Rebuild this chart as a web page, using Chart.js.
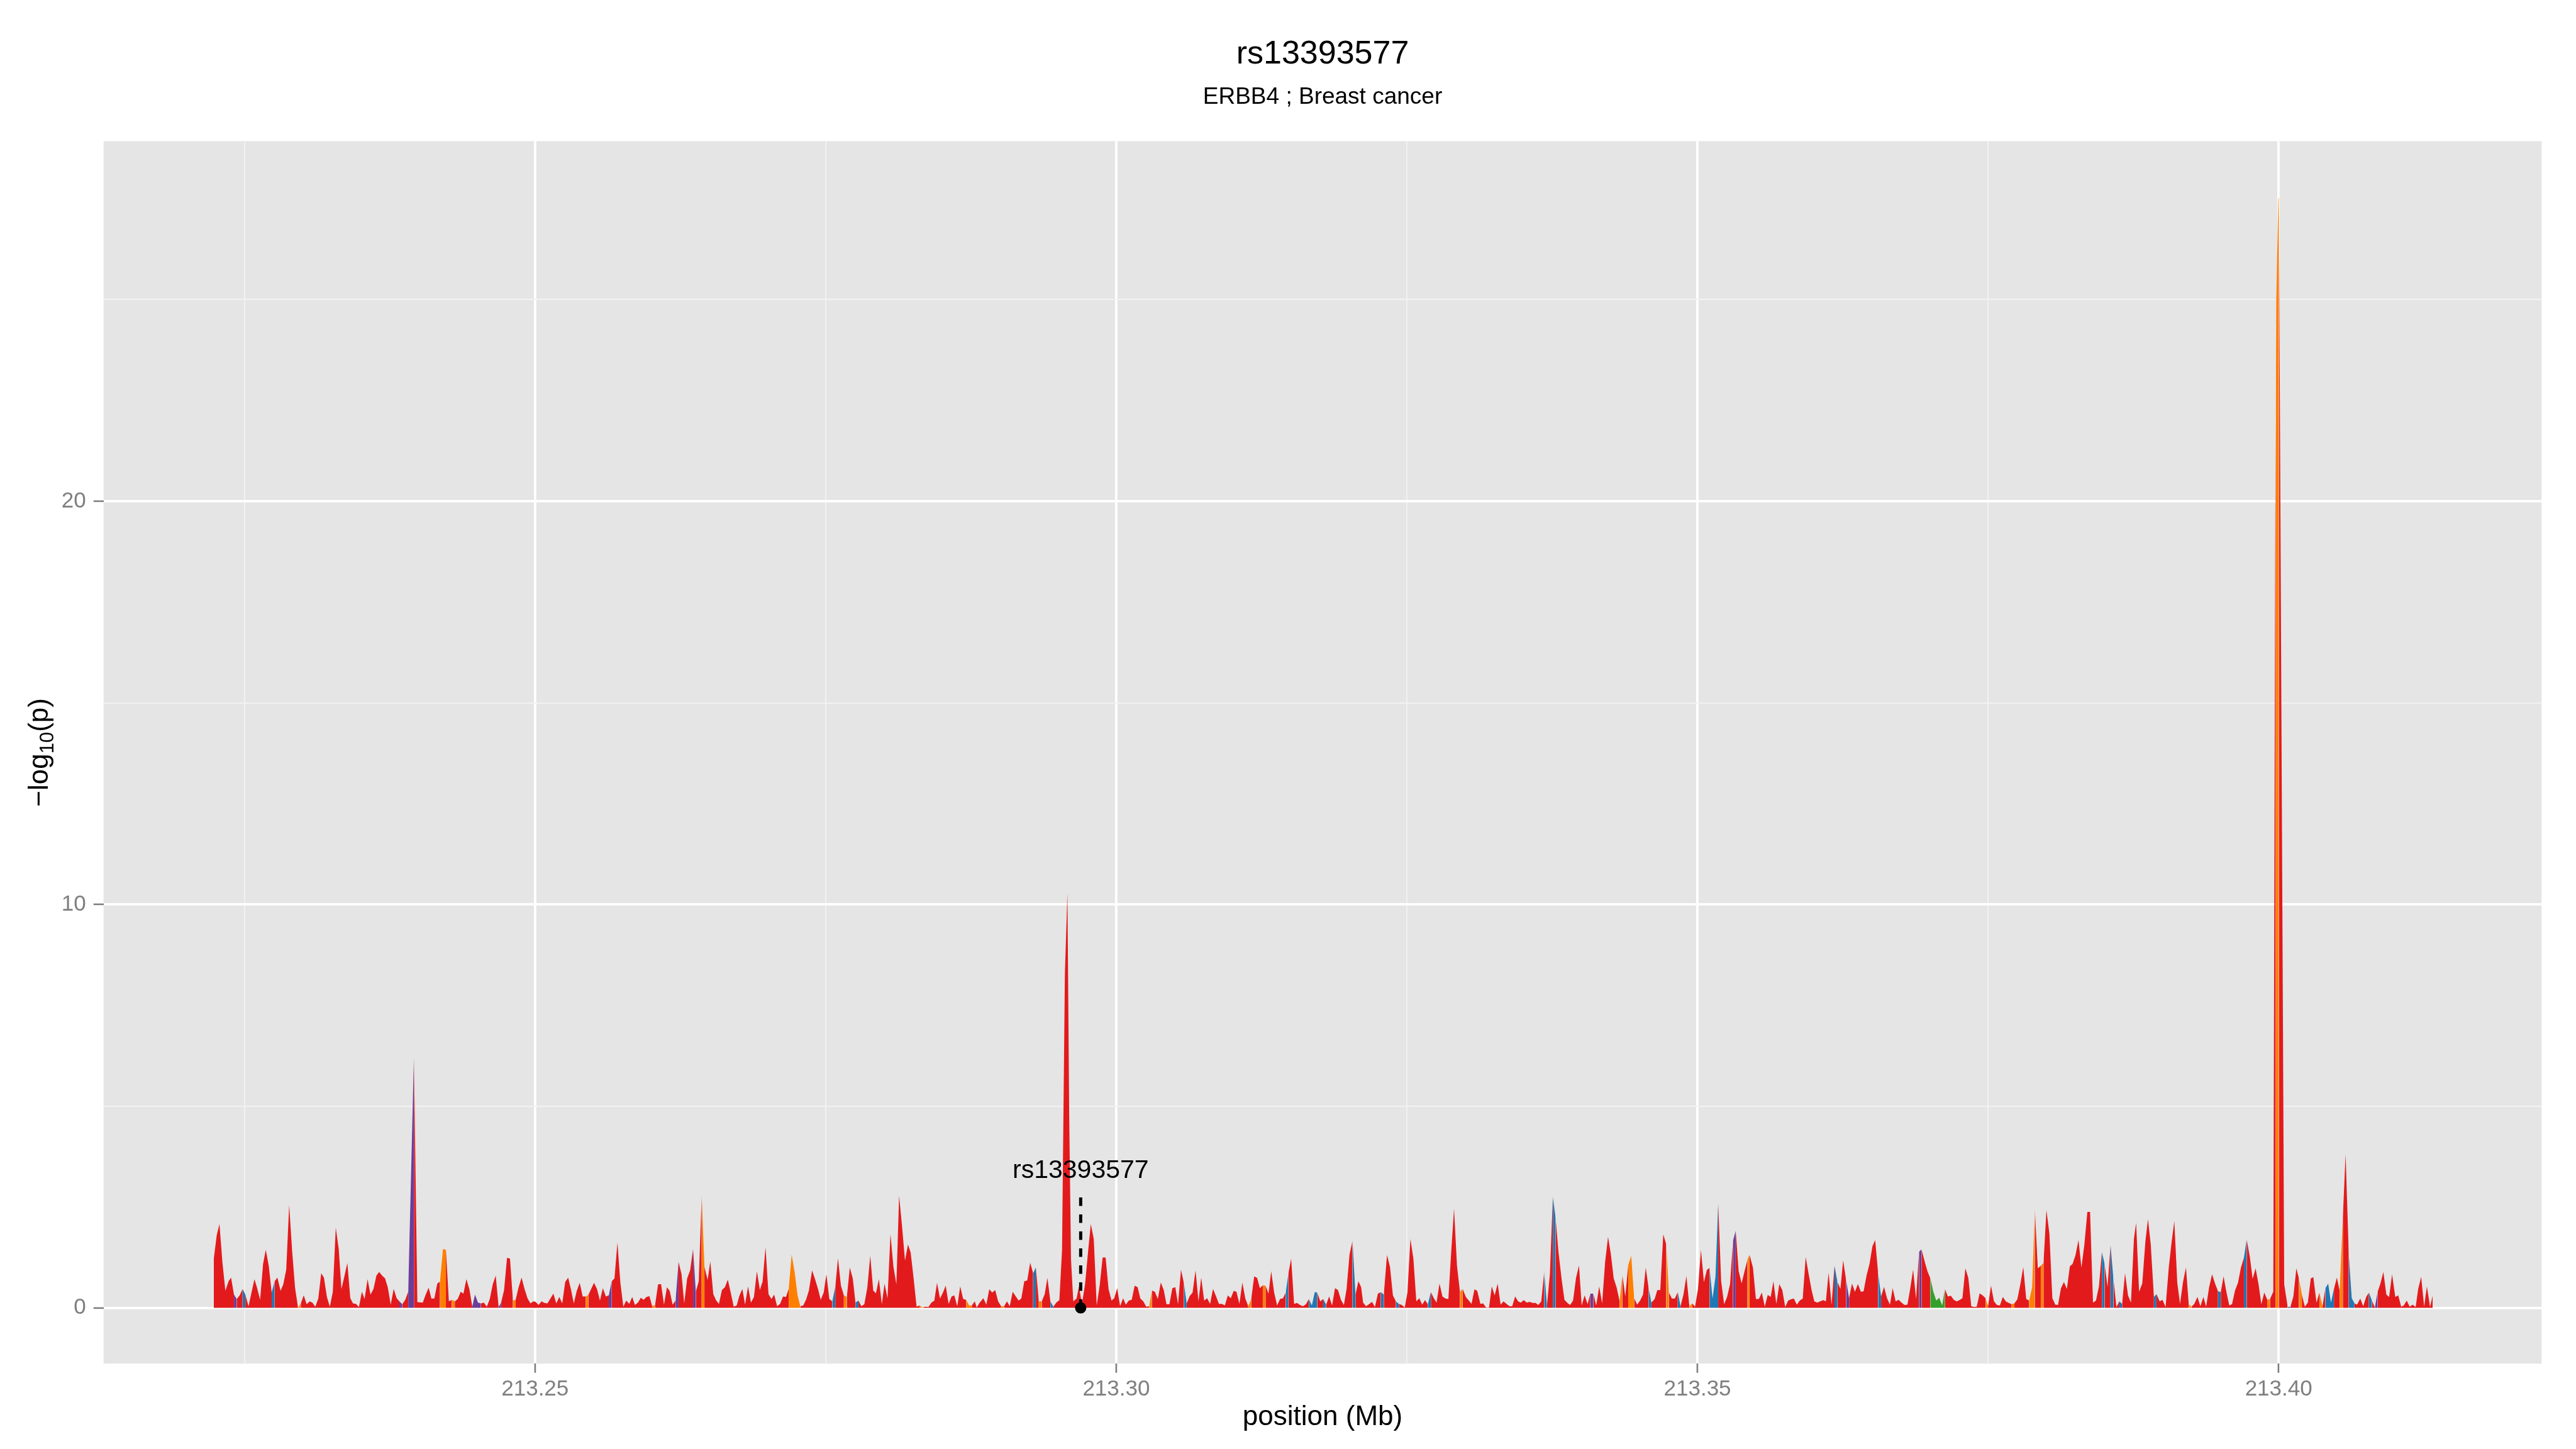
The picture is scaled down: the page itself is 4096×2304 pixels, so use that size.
<!DOCTYPE html>
<html>
<head>
<meta charset="utf-8">
<script src="https://cdn.jsdelivr.net/npm/chart.js@4/dist/chart.umd.min.js"></script>
<style>
  html, body { margin: 0; padding: 0; background: #fff; }
  #wrap { width: 4096px; height: 2304px; }
</style>
</head>
<body>
<div id="wrap"><canvas id="locus" width="4096" height="2304"></canvas></div>
<script>
'use strict';

// position (Mb) of every SNP and its -log10(p)
var positions = [
  213.222362, 213.222616, 213.222850, 213.223104, 213.223358, 213.223634, 213.223846, 213.224100, 213.224334, 213.224588,
  213.224842, 213.225076, 213.225351, 213.225606, 213.225860, 213.226072, 213.226348, 213.226602, 213.226835, 213.227090,
  213.227344, 213.227598, 213.227832, 213.228107, 213.228340, 213.228595, 213.228849, 213.229104, 213.229358, 213.229612,
  213.229846, 213.230100, 213.230354, 213.230609, 213.230842, 213.231096, 213.231351, 213.231605, 213.231838, 213.232093,
  213.232347, 213.232602, 213.232856, 213.233110, 213.233344, 213.233598, 213.233852, 213.234107, 213.234340, 213.234594,
  213.234849, 213.235103, 213.235336, 213.235591, 213.235845, 213.236100, 213.236354, 213.236587, 213.236842, 213.237096,
  213.237329, 213.237584, 213.237838, 213.238092, 213.238326, 213.238580, 213.238834, 213.239089, 213.239580, 213.239875,
  213.240340, 213.240594, 213.240848, 213.241082, 213.241336, 213.241590, 213.241824, 213.242078, 213.242332, 213.242587,
  213.242841, 213.243096, 213.243350, 213.243604, 213.243838, 213.244092, 213.244346, 213.244601, 213.244834, 213.245088,
  213.245343, 213.245597, 213.245852, 213.246106, 213.246360, 213.246615, 213.246869, 213.247081, 213.247336, 213.247590,
  213.247844, 213.248099, 213.248332, 213.248586, 213.248841, 213.249095, 213.249350, 213.249604, 213.249837, 213.250049,
  213.250304, 213.250558, 213.250812, 213.251067, 213.251321, 213.251576, 213.251830, 213.252084, 213.252339, 213.252593,
  213.252848, 213.253102, 213.253335, 213.253590, 213.253844, 213.254098, 213.254353, 213.254586, 213.255073, 213.255327,
  213.255582, 213.255836, 213.256091, 213.256345, 213.256599, 213.256833, 213.257087, 213.257341, 213.257596, 213.257850,
  213.258105, 213.258359, 213.258592, 213.258847, 213.259101, 213.259334, 213.259589, 213.259843, 213.260076, 213.260331,
  213.260585, 213.260839, 213.261094, 213.261348, 213.261581, 213.261836, 213.262090, 213.262345, 213.262599, 213.262832,
  213.263087, 213.263341, 213.263595, 213.263829, 213.264083, 213.264337, 213.264571, 213.264846, 213.265079, 213.265333,
  213.265588, 213.265822, 213.266076, 213.266330, 213.266585, 213.266839, 213.267093, 213.267348, 213.267581, 213.267835,
  213.268069, 213.268323, 213.268577, 213.268832, 213.269086, 213.269341, 213.269574, 213.269828, 213.270083, 213.270337,
  213.270570, 213.270825, 213.271079, 213.271333, 213.271588, 213.271821, 213.272075, 213.272330, 213.272584, 213.272817,
  213.273072, 213.273326, 213.273559, 213.273835, 213.274089, 213.274344, 213.274577, 213.274831, 213.275064, 213.275319,
  213.275573, 213.275828, 213.276061, 213.276315, 213.276570, 213.276824, 213.277079, 213.277333, 213.277566, 213.277821,
  213.278075, 213.278329, 213.278584, 213.278838, 213.279093, 213.279326, 213.279580, 213.279835, 213.280068, 213.280322,
  213.280577, 213.280831, 213.281085, 213.281319, 213.281573, 213.281827, 213.282082, 213.282315, 213.282569, 213.282824,
  213.283078, 213.283333, 213.283587, 213.283841, 213.284096, 213.284350, 213.284583, 213.284838, 213.285092, 213.285326,
  213.285580, 213.285834, 213.286068, 213.286322, 213.286576, 213.286831, 213.287085, 213.287340, 213.287573, 213.287827,
  213.287996, 213.288250, 213.288568, 213.288823, 213.289077, 213.289332, 213.289586, 213.289840, 213.290095, 213.290349,
  213.290604, 213.290837, 213.291091, 213.291346, 213.291600, 213.291833, 213.292088, 213.292342, 213.292596, 213.292851,
  213.293084, 213.293338, 213.293593, 213.293847, 213.294080, 213.294335, 213.294589, 213.294844, 213.295106, 213.295337,
  213.295582, 213.295799, 213.295952, 213.296106, 213.296305, 213.296583, 213.296794, 213.297048, 213.297324, 213.297578,
  213.297812, 213.298066, 213.298320, 213.298575, 213.298829, 213.299084, 213.299338, 213.299592, 213.299826, 213.300080,
  213.300334, 213.300589, 213.300822, 213.301076, 213.301331, 213.301585, 213.301840, 213.302073, 213.302327, 213.302582,
  213.302836, 213.303069, 213.303324, 213.303578, 213.303832, 213.304087, 213.304320, 213.304574, 213.304829, 213.305083,
  213.305316, 213.305571, 213.305825, 213.306058, 213.306313, 213.306567, 213.306822, 213.307076, 213.307309, 213.307564,
  213.307818, 213.308072, 213.308327, 213.308581, 213.308836, 213.309090, 213.309344, 213.309599, 213.309853, 213.310108,
  213.310341, 213.310595, 213.310849, 213.311104, 213.311358, 213.311613, 213.311867, 213.312122, 213.312355, 213.312609,
  213.312843, 213.313097, 213.313330, 213.313585, 213.313839, 213.314093, 213.314348, 213.314582, 213.314814, 213.315047,
  213.315302, 213.315556, 213.315810, 213.316065, 213.316319, 213.316574, 213.316828, 213.317082, 213.317294, 213.317549,
  213.317803, 213.318058, 213.318312, 213.318566, 213.318821, 213.319075, 213.319330, 213.319584, 213.319817, 213.320071,
  213.320326, 213.320580, 213.320835, 213.321068, 213.321237, 213.321491, 213.321746, 213.322000, 213.322255, 213.322509,
  213.322763, 213.323018, 213.323293, 213.323548, 213.323802, 213.324057, 213.324311, 213.324565, 213.324820, 213.325053,
  213.325307, 213.325562, 213.325816, 213.326071, 213.326325, 213.326558, 213.326813, 213.327067, 213.327321, 213.327555,
  213.327809, 213.328063, 213.328318, 213.328572, 213.328827, 213.329060, 213.329314, 213.329569, 213.329802, 213.330077,
  213.330332, 213.330565, 213.330819, 213.331053, 213.331328, 213.331561, 213.331816, 213.332070, 213.332304, 213.332558,
  213.332812, 213.333067, 213.333321, 213.333575, 213.333830, 213.334063, 213.334317, 213.334572, 213.334805, 213.335059,
  213.335314, 213.335568, 213.335823, 213.336077, 213.336310, 213.336565, 213.336819, 213.337052, 213.337307, 213.337561,
  213.337795, 213.338049, 213.338325, 213.338558, 213.338812, 213.339045, 213.339300, 213.339554, 213.339809, 213.340041,
  213.340296, 213.340550, 213.340784, 213.341038, 213.341292, 213.341547, 213.341801, 213.342055, 213.342310, 213.342543,
  213.342797, 213.343052, 213.343306, 213.343539, 213.343793, 213.344048, 213.344302, 213.344557, 213.344811, 213.345066,
  213.345320, 213.345553, 213.345808, 213.346041, 213.346317, 213.346550, 213.346804, 213.347059, 213.347313, 213.347546,
  213.347800, 213.348055, 213.348309, 213.348543, 213.348797, 213.349051, 213.349306, 213.349560, 213.349793, 213.350048,
  213.350302, 213.350557, 213.350811, 213.351044, 213.351299, 213.351553, 213.351786, 213.352041, 213.352295, 213.352550,
  213.352804, 213.353058, 213.353292, 213.353546, 213.353800, 213.354055, 213.354309, 213.354478, 213.354775, 213.355029,
  213.355284, 213.355538, 213.355792, 213.356047, 213.356301, 213.356534, 213.356789, 213.357043, 213.357298, 213.357552,
  213.357806, 213.358040, 213.358294, 213.358548, 213.358803, 213.359057, 213.359312, 213.359566, 213.359820, 213.360054,
  213.360308, 213.360562, 213.360817, 213.361050, 213.361283, 213.361538, 213.361792, 213.362046, 213.362301, 213.362534,
  213.362789, 213.363043, 213.363297, 213.363552, 213.363806, 213.364060, 213.364294, 213.364548, 213.364802, 213.365057,
  213.365290, 213.365545, 213.365799, 213.366053, 213.366308, 213.366562, 213.366795, 213.367050, 213.367304, 213.367558,
  213.367813, 213.368067, 213.368300, 213.368555, 213.368809, 213.369064, 213.369276, 213.369530, 213.369785, 213.370039,
  213.370294, 213.370548, 213.370802, 213.371057, 213.371290, 213.371545, 213.371799, 213.372053, 213.372308, 213.372541,
  213.372795, 213.373049, 213.373304, 213.373558, 213.373812, 213.374025, 213.374278, 213.374533, 213.374788, 213.375000,
  213.375254, 213.375509, 213.375763, 213.376017, 213.376272, 213.376526, 213.376780, 213.377035, 213.377268, 213.377522,
  213.377777, 213.378031, 213.378286, 213.378540, 213.378794, 213.379028, 213.379282, 213.379536, 213.379770, 213.380024,
  213.380278, 213.380533, 213.380787, 213.381020, 213.381275, 213.381529, 213.381784, 213.382038, 213.382271, 213.382526,
  213.382780, 213.383034, 213.383289, 213.383543, 213.383777, 213.384031, 213.384285, 213.384540, 213.384794, 213.385027,
  213.385282, 213.385536, 213.385790, 213.386045, 213.386299, 213.386532, 213.386787, 213.387041, 213.387296, 213.387550,
  213.387740, 213.387993, 213.388267, 213.388541, 213.388760, 213.388997, 213.389271, 213.389490, 213.389764, 213.390002,
  213.390275, 213.390549, 213.390787, 213.391024, 213.391280, 213.391517, 213.391773, 213.392028, 213.392266, 213.392503,
  213.392741, 213.393015, 213.393270, 213.393526, 213.393763, 213.394019, 213.394274, 213.394530, 213.394786, 213.395023,
  213.395260, 213.395516, 213.395753, 213.395991, 213.396247, 213.396502, 213.396758, 213.397013, 213.397251, 213.397525,
  213.397762, 213.398018, 213.398274, 213.398511, 213.398766, 213.399022, 213.399259, 213.399538, 213.399710, 213.399755,
  213.399800, 213.399975, 213.400020,
  213.400480, 213.400775, 213.401012, 213.401268, 213.401524, 213.401743, 213.401999, 213.402254, 213.402510, 213.402766,
  213.402984, 213.403258, 213.403514, 213.403770, 213.404025, 213.404263, 213.404500, 213.404756, 213.405012, 213.405249,
  213.405523, 213.405760, 213.406034, 213.406290, 213.406527, 213.406746, 213.407020, 213.407275, 213.407531, 213.407768,
  213.408024, 213.408280, 213.408518, 213.408755, 213.409010, 213.409266, 213.409503, 213.409759, 213.410033, 213.410288,
  213.410544, 213.410763, 213.411019, 213.411275, 213.411530, 213.411786, 213.412005, 213.412261, 213.412517, 213.412754,
  213.413028, 213.413247
];

var logp = [
  1.22, 1.80, 2.08, 1.13, 0.42, 0.66, 0.75, 0.33, 0.22, 0.31,
  0.47, 0.33, 0.04, 0.38, 0.71, 0.51, 0.20, 1.09, 1.44, 1.04,
  0.38, 0.66, 0.75, 0.42, 0.58, 0.95, 2.55, 1.40, 0.49, 0.00,
  0.11, 0.31, 0.09, 0.16, 0.13, 0.03, 0.23, 0.86, 0.75, 0.27,
  0.03, 0.40, 1.99, 1.46, 0.47, 0.78, 1.11, 0.24, 0.11, 0.10,
  0.02, 0.40, 0.22, 0.71, 0.33, 0.47, 0.80, 0.89, 0.80, 0.73,
  0.51, 0.08, 0.47, 0.24, 0.16, 0.09, 0.20, 0.40, 6.24, 0.14,
  0.13, 0.33, 0.50, 0.23, 0.23, 0.60, 0.65, 1.46, 1.44, 0.16,
  0.20, 0.16, 0.22, 0.40, 0.35, 0.71, 0.47, 0.03, 0.33, 0.13,
  0.11, 0.13, 0.03, 0.22, 0.58, 0.80, 0.02, 0.13, 0.44, 1.24,
  1.22, 0.18, 0.20, 0.51, 0.75, 0.47, 0.24, 0.11, 0.16, 0.15,
  0.07, 0.16, 0.12, 0.11, 0.23, 0.35, 0.11, 0.27, 0.11, 0.64,
  0.75, 0.44, 0.11, 0.42, 0.62, 0.28, 0.28, 0.32, 0.62, 0.47,
  0.18, 0.49, 0.28, 0.31, 0.66, 0.73, 1.62, 0.62, 0.03, 0.18,
  0.10, 0.27, 0.07, 0.13, 0.25, 0.20, 0.27, 0.29, 0.04, 0.08,
  0.58, 0.59, 0.08, 0.51, 0.42, 0.08, 0.18, 1.14, 0.84, 0.11,
  0.73, 0.93, 1.46, 0.40, 0.66, 2.79, 1.02, 0.69, 1.15, 0.34,
  0.18, 0.10, 0.44, 0.51, 0.70, 0.37, 0.03, 0.06, 0.30, 0.47,
  0.08, 0.53, 0.13, 0.27, 0.91, 0.44, 0.65, 1.50, 0.34, 0.22,
  0.33, 0.04, 0.10, 0.28, 0.27, 0.47, 1.32, 0.89, 0.31, 0.04,
  0.06, 0.21, 0.43, 0.93, 0.71, 0.47, 0.20, 0.38, 0.83, 0.22,
  0.16, 0.51, 1.23, 0.55, 0.31, 0.27, 1.00, 0.73, 0.13, 0.18,
  0.04, 0.09, 0.50, 1.29, 0.43, 0.36, 0.71, 0.09, 0.60, 0.23,
  1.83, 1.02, 0.58, 2.78, 2.02, 1.17, 1.57, 1.37, 0.73, 0.03,
  0.06, 0.01, 0.03, 0.02, 0.13, 0.18, 0.62, 0.23, 0.38, 0.55,
  0.10, 0.28, 0.31, 0.04, 0.53, 0.22, 0.20, 0.06, 0.06, 0.16,
  0.01, 0.13, 0.24, 0.08, 0.46, 0.38, 0.44, 0.16, 0.04, 0.04,
  0.16, 0.04, 0.40, 0.29, 0.18, 0.23, 0.66, 0.68, 1.12, 0.86,
  1.00, 0.16, 0.16, 0.34, 0.74, 0.16, 0.03, 0.13, 0.19, 1.43,
  8.28, 10.29, 4.79, 1.21, 0.16, 0.23, 0.53, 0.09, 0.60, 1.40,
  2.08, 1.71, 0.06, 0.56, 1.25, 1.25, 0.47, 0.18, 0.24, 0.49,
  0.04, 0.24, 0.08, 0.18, 0.20, 0.55, 0.51, 0.23, 0.16, 0.03,
  0.04, 0.43, 0.40, 0.22, 0.63, 0.44, 0.09, 0.09, 0.49, 0.51,
  0.09, 0.95, 0.60, 0.11, 0.29, 0.38, 0.93, 0.16, 0.75, 0.18,
  0.24, 0.10, 0.47, 0.29, 0.10, 0.10, 0.06, 0.31, 0.24, 0.42,
  0.40, 0.10, 0.63, 0.23, 0.04, 0.22, 0.78, 0.74, 0.49, 0.56,
  0.55, 0.35, 0.91, 0.38, 0.06, 0.22, 0.24, 0.38, 0.86, 1.22,
  0.10, 0.12, 0.07, 0.04, 0.09, 0.22, 0.06, 0.39, 0.38, 0.16,
  0.22, 0.08, 0.28, 0.06, 0.49, 0.44, 0.20, 0.07, 0.47, 1.33,
  1.66, 0.33, 0.66, 0.51, 0.13, 0.04, 0.09, 0.15, 0.02, 0.35,
  0.39, 0.33, 1.31, 1.02, 0.31, 0.16, 0.10, 0.07, 0.01, 0.38,
  1.71, 1.22, 0.16, 0.24, 0.08, 0.19, 0.09, 0.39, 0.24, 0.13,
  0.60, 0.28, 0.23, 0.22, 1.44, 2.46, 1.04, 0.40, 0.47, 0.27,
  0.18, 0.10, 0.46, 0.42, 0.10, 0.11, 0.01, 0.01, 0.53, 0.31,
  0.60, 0.08, 0.16, 0.10, 0.04, 0.04, 0.28, 0.16, 0.13, 0.19,
  0.13, 0.15, 0.12, 0.12, 0.07, 0.16, 0.90, 0.06, 0.84, 2.76,
  2.24, 1.37, 0.69, 0.20, 0.12, 0.07, 0.18, 0.74, 1.05, 0.06,
  0.31, 0.09, 0.35, 0.35, 0.06, 0.53, 0.11, 1.13, 1.76, 1.35,
  0.73, 0.50, 0.16, 0.82, 0.28, 1.06, 1.29, 0.24, 0.08, 0.18,
  0.33, 1.00, 0.47, 0.13, 0.22, 0.44, 0.44, 1.82, 1.58, 0.38,
  0.23, 0.23, 0.39, 0.04, 0.33, 0.79, 0.04, 0.11, 0.03, 0.47,
  1.44, 0.64, 0.94, 0.99, 0.23, 0.78, 2.59, 0.66, 0.09, 0.27,
  0.58, 1.66, 1.91, 0.91, 0.61, 0.91, 1.20, 1.32, 1.00, 0.22,
  0.22, 0.38, 0.03, 0.32, 0.27, 0.66, 0.10, 0.59, 0.44, 0.02,
  0.18, 0.21, 0.23, 0.08, 0.18, 0.23, 1.26, 0.84, 0.44, 0.16,
  0.13, 0.16, 0.19, 0.16, 0.87, 0.08, 1.04, 0.64, 0.47, 1.18,
  0.69, 0.24, 0.60, 0.40, 0.59, 0.40, 0.41, 0.80, 1.09, 1.53,
  1.68, 0.86, 0.28, 0.52, 0.24, 0.08, 0.49, 0.16, 0.20, 0.13,
  0.07, 0.08, 0.47, 0.95, 0.22, 1.39, 1.45, 1.17, 0.91, 0.73,
  0.40, 0.18, 0.25, 0.06, 0.47, 0.28, 0.30, 0.20, 0.16, 0.19,
  0.24, 0.98, 0.74, 0.04, 0.02, 0.03, 0.36, 0.31, 0.24, 0.04,
  0.55, 0.16, 0.07, 0.06, 0.27, 0.16, 0.12, 0.09, 0.11, 0.21,
  0.58, 1.01, 0.22, 0.18, 0.51, 2.44, 0.98, 1.04, 1.11, 2.42,
  1.84, 0.24, 0.08, 0.07, 0.49, 0.64, 0.47, 1.03, 1.09, 1.31,
  1.68, 1.00, 1.57, 2.38, 2.38, 0.13, 0.18, 0.53, 1.39, 1.09,
  0.52, 1.56, 0.71, 0.02, 0.16, 0.10, 0.86, 0.31, 0.13, 1.71,
  2.11, 0.40, 0.60, 1.66, 2.20, 1.57, 0.27, 0.34, 0.16, 0.20,
  0.02, 1.00, 1.62, 2.15, 0.62, 0.10, 0.64, 1.00, 0.09, 0.03,
  0.10, 0.27, 0.04, 0.27, 0.03, 0.51, 0.83, 0.60, 0.41, 0.39,
  0.78, 0.38, 0.06, 0.09, 0.43, 0.62, 1.00, 1.24, 1.70, 1.26,
  0.72, 0.98, 0.58, 0.09, 0.38, 0.20, 0.22, 0.40, 19.45, 22.0,
  25.0, 27.50, 27.54,
  0.58, 0.03, 0.02, 0.28, 0.98, 0.73, 0.33, 0.03, 0.13, 0.73,
  0.76, 0.13, 0.38, 0.03, 0.49, 0.60, 0.13, 0.47, 0.75, 0.42,
  2.24, 3.81, 1.31, 0.24, 0.11, 0.08, 0.23, 0.04, 0.27, 0.38,
  0.18, 0.01, 0.40, 0.60, 0.89, 0.33, 0.27, 0.83, 0.27, 0.31,
  0.03, 0.06, 0.18, 0.03, 0.08, 0.02, 0.47, 0.77, 0.03, 0.53,
  0.02, 0.30
];

// SNPs whose following stretch of the area takes another fill colour
var purpleAt = [213.224100, 213.238326, 213.239089, 213.244601, 213.244834, 213.245088, 213.246869, 213.256345,
  213.262090, 213.263595, 213.340784, 213.353058, 213.362789, 213.369064, 213.408280];
var blueAt = [213.224842, 213.227344, 213.275573, 213.277566, 213.292851, 213.294335, 213.305825, 213.314582,
  213.316574, 213.316828, 213.317082, 213.317803, 213.320326, 213.322763, 213.324057, 213.326813, 213.336819,
  213.337561, 213.345808, 213.348309, 213.351044, 213.351299, 213.351553, 213.361792, 213.365545, 213.384794,
  213.385536, 213.386299, 213.389271, 213.394786, 213.397013, 213.400775, 213.404025, 213.404263, 213.404500,
  213.406034, 213.406290, 213.407768];
var orangeAt = [213.229612, 213.241824, 213.242078, 213.242841, 213.248099, 213.254353, 213.260076, 213.264337,
  213.271821, 213.272075, 213.272330, 213.272584, 213.276570, 213.283078, 213.287085, 213.287340, 213.290095,
  213.293338, 213.302836, 213.311358, 213.312609, 213.329569, 213.343306, 213.344048, 213.344302, 213.347313,
  213.349306, 213.354309, 213.374788, 213.377035, 213.378540, 213.378794, 213.379536, 213.392266, 213.399022,
  213.399755, 213.399800, 213.399975, 213.401743, 213.403514, 213.405249];
var greenAt = [213.370039, 213.370294, 213.370548, 213.370802, 213.371057];

// lead SNP annotation
var leadSnp = 'rs13393577';
var leadPos = 213.29694;
var leadLineTop = 2.75;
var leadLabelY = 3.22;

// axis ticks
var xMajor = [213.25, 213.30, 213.35, 213.40];
var xMinor = [213.225, 213.275, 213.325, 213.375];
var xTickLabels = ['213.25', '213.30', '213.35', '213.40'];
var yMajor = [0, 10, 20];
var yMinor = [5, 15, 25];
var yTickLabels = ['0', '10', '20'];

var RED = '#E31A1C', BLUE = '#1F78B4', PURPLE = '#6A3D9A', ORANGE = '#FF7F00', GREEN = '#33A02C';
var FONT = '"Liberation Sans", Arial, Helvetica, sans-serif';

function findIn(list, v) {
  for (var i = 0; i < list.length; i++) {
    if (Math.abs(list[i] - v) < 1e-7) return i;
  }
  return -1;
}

var segColors = positions.map(function(p) {
  if (findIn(purpleAt, p) >= 0) return PURPLE;
  if (findIn(blueAt, p) >= 0) return BLUE;
  if (findIn(orangeAt, p) >= 0) return ORANGE;
  if (findIn(greenAt, p) >= 0) return GREEN;
  return RED;
});

var areaData = positions.map(function(p, i) { return { x: p, y: logp[i] }; });

function majorX(tick) { return tick && findIn(xMajor, tick.value) >= 0; }
function majorY(tick) { return tick && findIn(yMajor, tick.value) >= 0; }

// grey panel, titles and axis titles
var decorations = {
  id: 'decorations',
  beforeDraw: function(chart) {
    var ctx = chart.ctx, a = chart.chartArea;
    ctx.save();
    ctx.fillStyle = '#E5E5E5';
    ctx.fillRect(a.left, a.top, a.right - a.left, a.bottom - a.top);
    ctx.restore();
  },
  afterDraw: function(chart) {
    var ctx = chart.ctx, a = chart.chartArea;
    var cx = (a.left + a.right) / 2;
    ctx.save();
    ctx.fillStyle = '#000';
    ctx.textAlign = 'center';
    ctx.textBaseline = 'alphabetic';

    ctx.font = '52px ' + FONT;
    ctx.fillText('rs13393577', cx, 101);
    ctx.font = '37px ' + FONT;
    ctx.fillText('ERBB4 ; Breast cancer', cx, 164.5);

    ctx.font = '44px ' + FONT;
    ctx.fillText('position (Mb)', cx, 2266);

    // lead SNP label
    var xs = chart.scales.x, ys = chart.scales.y;
    ctx.font = '41px ' + FONT;
    ctx.fillText(leadSnp, xs.getPixelForValue(leadPos), ys.getPixelForValue(leadLabelY));

    // -log10(p), rotated
    ctx.translate(76, (a.top + a.bottom) / 2);
    ctx.rotate(-Math.PI / 2);
    ctx.textAlign = 'left';
    ctx.font = '44px ' + FONT;
    var w1 = ctx.measureText('\u2212log').width;
    var w3 = ctx.measureText('(p)').width;
    ctx.font = '31px ' + FONT;
    var w2 = ctx.measureText('10').width;
    var x0 = -(w1 + w2 + w3) / 2;
    ctx.font = '44px ' + FONT;
    ctx.fillText('\u2212log', x0, 0);
    ctx.font = '31px ' + FONT;
    ctx.fillText('10', x0 + w1, 9);
    ctx.font = '44px ' + FONT;
    ctx.fillText('(p)', x0 + w1 + w2, 0);
    ctx.restore();
  }
};

new Chart(document.getElementById('locus'), {
  type: 'line',
  data: {
    datasets: [{
      type: 'scatter',
      data: [{ x: leadPos, y: 0 }],
      pointRadius: 9,
      pointBackgroundColor: '#000',
      pointBorderWidth: 0,
      order: 0
    }, {
      data: [{ x: leadPos, y: 0 }, { x: leadPos, y: leadLineTop }],
      borderColor: '#000',
      borderWidth: 5,
      borderDash: [13.5, 13.5],
      pointRadius: 0,
      fill: false,
      order: 1
    }, {
      data: areaData,
      fill: 'origin',
      backgroundColor: RED,
      borderColor: 'rgba(0,0,0,0)',
      borderWidth: 0,
      pointRadius: 0,
      tension: 0,
      segment: {
        backgroundColor: function(c) { return segColors[c.p0DataIndex]; }
      },
      order: 2
    }]
  },
  options: {
    responsive: false,
    animation: false,
    devicePixelRatio: 1,
    events: [],
    layout: { padding: { top: 224.4, right: 54.7, bottom: 0, left: 0 } },
    plugins: {
      legend: { display: false },
      tooltip: { enabled: false }
    },
    scales: {
      x: {
        type: 'linear',
        min: 213.212881,
        max: 213.422622,
        afterBuildTicks: function(s) {
          s.ticks = xMinor.concat(xMajor).sort(function(a, b) { return a - b; })
            .map(function(v) { return { value: v }; });
        },
        afterFit: function(s) { s.height = 135.7; },
        border: { display: false },
        grid: {
          color: function(c) { return majorX(c.tick) ? '#FFFFFF' : '#F2F2F2'; },
          lineWidth: function(c) { return majorX(c.tick) ? 3.8 : 1.9; },
          tickColor: function(c) { return majorX(c.tick) ? '#7F7F7F' : 'rgba(0,0,0,0)'; },
          tickLength: 14.5,
          tickWidth: 2.6
        },
        ticks: {
          autoSkip: false,
          maxRotation: 0,
          padding: 6,
          color: '#7F7F7F',
          font: { family: FONT, size: 35 },
          callback: function(v) {
            var i = findIn(xMajor, v);
            return i >= 0 ? xTickLabels[i] : '';
          }
        }
      },
      y: {
        type: 'linear',
        min: -1.384,
        max: 28.93,
        afterBuildTicks: function(s) {
          s.ticks = yMajor.concat(yMinor).sort(function(a, b) { return a - b; })
            .map(function(v) { return { value: v }; });
        },
        afterFit: function(s) { s.width = 164.7; },
        border: { display: false },
        grid: {
          color: function(c) { return majorY(c.tick) ? '#FFFFFF' : '#F2F2F2'; },
          lineWidth: function(c) { return majorY(c.tick) ? 3.8 : 1.9; },
          tickColor: function(c) { return majorY(c.tick) ? '#7F7F7F' : 'rgba(0,0,0,0)'; },
          tickLength: 16,
          tickWidth: 2.6
        },
        ticks: {
          autoSkip: false,
          padding: 12,
          color: '#7F7F7F',
          font: { family: FONT, size: 35 },
          callback: function(v) {
            var i = findIn(yMajor, v);
            return i >= 0 ? yTickLabels[i] : '';
          }
        }
      }
    }
  },
  plugins: [decorations]
});
</script>
</body>
</html>
